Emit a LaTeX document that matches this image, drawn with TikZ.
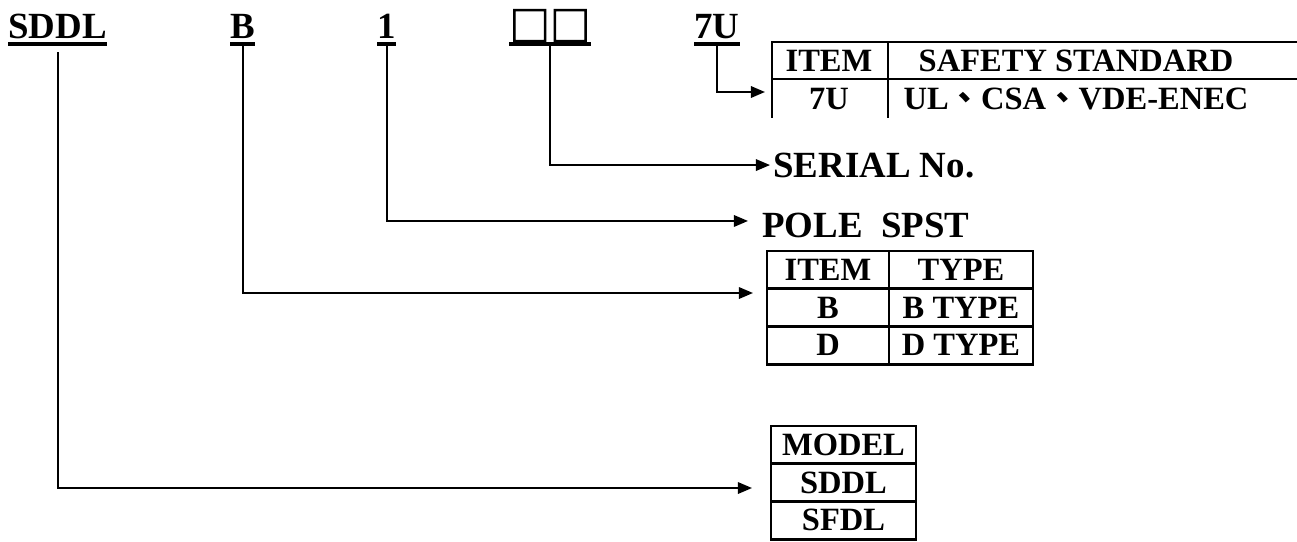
\documentclass[tikz,border=0pt]{standalone}
\usepackage{fontspec}
\setmainfont{Liberation Serif}
\newfontfamily\cjk{Noto Sans CJK TC}
\newfontfamily\cjkbox[FakeBold=2.5]{Noto Sans CJK TC}
\usetikzlibrary{arrows.meta, positioning}

\begin{document}
\begin{tikzpicture}[x=0.02cm, y=-0.02cm,
  code/.style={font=\fontsize{21}{25}\selectfont\bfseries, inner sep=0pt},
  cell/.style={draw, line width=1.6pt, outer sep=0pt, inner sep=0pt, minimum height=0.755cm, font=\fontsize{18.5}{21}\selectfont\bfseries},
  head/.style={font=\fontsize{18.5}{21}\selectfont\bfseries, inner sep=0pt},
  uline/.style={line width=1.8pt},
  rule/.style={line width=1.6pt},
  conn/.style={line width=1.1pt, -{Triangle[length=8pt, width=6.5pt]}}]
  \useasboundingbox (0,0) rectangle (1297,541);

  % part number
  \node[code, anchor=base west] (lmodel) at (8,38) {SDDL};
  \node[code, anchor=base west] (ltype) at (230,38) {B};
  \node[code, anchor=base west] (lpole) at (377,38) {1};
  \node[code, anchor=base, font=\fontsize{23}{25}\selectfont] (lserial) at (550,41) {\cjkbox □□};
  \node[code, anchor=base] (lsafety) at (717,38) {7U};
  \foreach \n in {lmodel, ltype, lpole, lserial, lsafety}
    \draw[uline] (\n.base west |- 0,44) -- (\n.base east |- 0,44);

  % safety standard table (open at right and bottom)
  \draw[rule] (1297,42) -| (772,118);
  \draw[rule] (772,79) -- (1297,79);
  \draw[rule] (888,42) -- (888,118);
  \node[head] (sf11) at (829,61) {ITEM};
  \node[head] (sf12) at (1076,61) {SAFETY STANDARD};
  \node[head] (sf21) at (829,99) {7U};
  \node[head] (sf22) at (1076,99) {UL{\cjk 、}CSA{\cjk 、}VDE-ENEC};

  % serial and pole
  \node[code, anchor=base west] (serial) at (773,177) {SERIAL No.};
  \node[code, anchor=base west] (pole) at (762,237) {POLE\ \ SPST};

  % type table
  \node[cell, minimum width=2.44cm, anchor=north west] (ty11) at (767,251) {ITEM};
  \node[cell, minimum width=2.88cm, right=0pt of ty11] (ty12) {TYPE};
  \node[cell, minimum width=2.44cm, below=0pt of ty11] (ty21) {B};
  \node[cell, minimum width=2.88cm, below=0pt of ty12] (ty22) {B TYPE};
  \node[cell, minimum width=2.44cm, below=0pt of ty21] (ty31) {D};
  \node[cell, minimum width=2.88cm, below=0pt of ty22] (ty32) {D TYPE};

  % model table
  \node[cell, minimum width=2.9cm, anchor=north west] (md1) at (771,426) {MODEL};
  \node[cell, minimum width=2.9cm, below=0pt of md1] (md2) {SDDL};
  \node[cell, minimum width=2.9cm, below=0pt of md2] (md3) {SFDL};

  % arrow tips
  \coordinate (tsafety) at (765,92);
  \coordinate (ttype) at (753,293);
  \coordinate (tmodel) at (752,488);

  % connectors
  \draw[conn] (lsafety.base |- 0,44) |- (tsafety);
  \draw[conn, shorten >=0.06cm] (lserial.base |- 0,44) |- (serial.west);
  \draw[conn, shorten >=0.28cm] (lpole.base |- 0,44) |- ([yshift=0.08cm]pole.west);
  \draw[conn] (ltype.base |- 0,44) |- (ttype);
  \draw[conn] (lmodel.base |- 0,52) |- (tmodel);
\end{tikzpicture}
\end{document}
